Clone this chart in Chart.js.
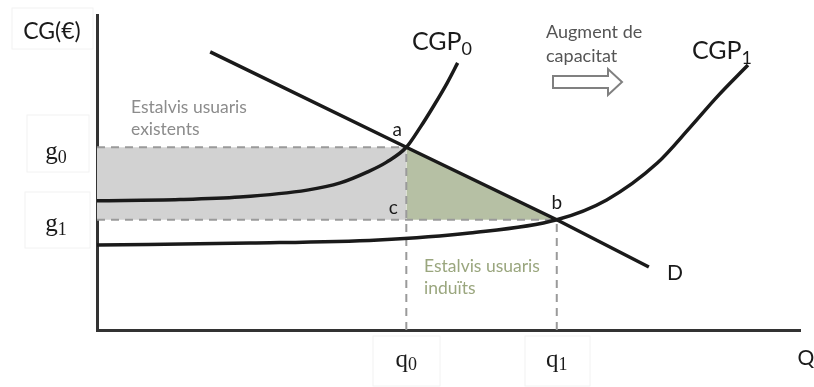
<!DOCTYPE html>
<html lang="ca">
<head>
<meta charset="UTF-8">
<title>Estalvis usuaris - augment de capacitat</title>
<script src="https://cdn.jsdelivr.net/npm/chart.js"></script>
<style>
  body { margin: 0; background: #fff; }
  #wrap { width: 814px; height: 387px; }
</style>
</head>
<body>
<div id="wrap"><canvas id="chart" width="814" height="387"></canvas></div>
<script>
// corbes llegides del gràfic (unitats arbitràries 0..100)
const cgp0X = [0, 11.8, 20.3, 29.9, 34.6, 38.5, 41.2, 44, 46, 47.8, 49.8, 51.3];
const cgp0Y = [41, 41.4, 42.2, 44.4, 46.7, 50.2, 53.3, 58, 64.4, 70.8, 78.4, 84.8];
const cgp1X = [0, 21.8, 40, 53, 65.4, 72.5, 79.7, 84.4, 88.2, 92.6];
const cgp1Y = [27, 27.6, 28.6, 30.8, 35, 41.3, 53, 64.4, 74, 84.1];
const demandX = [16.1, 44, 65.4, 78.5];
const demandY = [88.3, 58, 35, 20];

// equilibris
const q0 = 44, q1 = 65.4;
const g0 = 58, g1 = 35;
const yTickLabels = ['g', 'g'];
const yTickSubs = ['0', '1'];
const xTickLabels = ['q', 'q'];
const xTickSubs = ['0', '1'];

const pts = (xs, ys) => xs.map((x, i) => ({ x: x, y: ys[i] }));

const dash = { borderColor: '#9a9a9a', borderWidth: 2, borderDash: [8, 6], pointRadius: 0, showLine: true, fill: false };

const sans = 'Lato, "Open Sans", sans-serif';
const serif = '"Liberation Serif", "DejaVu Serif", serif';

function sub(ctx, base, s, x, y, size, font, drop) {
  ctx.font = size + 'px ' + font;
  const w1 = ctx.measureText(base).width;
  ctx.font = Math.round(size * 0.7) + 'px ' + font;
  const w2 = ctx.measureText(s).width;
  const left = x - (w1 + w2) / 2;
  ctx.textAlign = 'left';
  ctx.font = size + 'px ' + font;
  ctx.fillText(base, left, y);
  ctx.font = Math.round(size * 0.7) + 'px ' + font;
  ctx.fillText(s, left + w1, y + size * (drop || 0.22));
}

const labels = {
  id: 'labels',
  afterDatasetsDraw(chart) {
    const ctx = chart.ctx;
    const xs = chart.scales.x, ys = chart.scales.y;
    ctx.save();
    ctx.textBaseline = 'middle';

    // caixes suaus al voltant de les etiquetes
    ctx.strokeStyle = '#f2f2f2';
    ctx.lineWidth = 1;
    ctx.strokeRect(12, 8, 81, 41);
    ctx.strokeRect(27, 115, 62, 57);
    ctx.strokeRect(25, 192, 65, 56);
    ctx.strokeRect(373, 336, 67, 50);
    ctx.strokeRect(525, 336, 65, 50);

    ctx.fillStyle = '#1a1a1a';
    ctx.textAlign = 'center';
    ctx.font = '23px ' + sans;
    ctx.fillText('CG(€)', 52, 32);

    // etiquetes dels eixos
    [g0, g1].forEach((v, i) => {
      sub(ctx, yTickLabels[i], yTickSubs[i], 56, ys.getPixelForValue(v) + 5, 25, serif);
    });
    [q0, q1].forEach((v, i) => {
      sub(ctx, xTickLabels[i], xTickSubs[i], xs.getPixelForValue(v), 360, 25, serif);
    });
    ctx.textAlign = 'center';
    ctx.font = '21px ' + sans;
    ctx.fillText('Q', 806, 358);

    // noms de les corbes
    sub(ctx, 'CGP', '0', 442, 42, 25, sans, 0.3);
    sub(ctx, 'CGP', '1', 722, 51, 25, sans, 0.3);
    ctx.textAlign = 'left';
    ctx.font = '21px ' + sans;
    ctx.fillText('D', 667, 273);

    // punts
    ctx.font = '19px ' + sans;
    ctx.textAlign = 'center';
    ctx.fillText('a', xs.getPixelForValue(q0) - 9, ys.getPixelForValue(g0) - 17);
    ctx.fillText('b', xs.getPixelForValue(q1), ys.getPixelForValue(g1) - 17);
    ctx.fillText('c', xs.getPixelForValue(q0) - 13, ys.getPixelForValue(g1) - 12);

    // textos d'estalvis
    ctx.textAlign = 'left';
    ctx.font = '17.5px ' + sans;
    ctx.fillStyle = '#8c8c8c';
    ctx.fillText('Estalvis usuaris', 131, 107);
    ctx.fillText('existents', 131, 129);
    ctx.fillStyle = '#9aa67e';
    ctx.fillText('Estalvis usuaris', 424, 266);
    ctx.fillText('induïts', 424, 288);

    ctx.fillStyle = '#555';
    ctx.font = '18px ' + sans;
    ctx.fillText('Augment de', 546, 32);
    ctx.fillText('capacitat', 546, 56);

    // fletxa buida
    ctx.beginPath();
    ctx.moveTo(553, 76);
    ctx.lineTo(608, 76);
    ctx.lineTo(608, 69);
    ctx.lineTo(622, 82);
    ctx.lineTo(608, 95);
    ctx.lineTo(608, 88);
    ctx.lineTo(553, 88);
    ctx.closePath();
    ctx.fillStyle = '#fff';
    ctx.fill();
    ctx.strokeStyle = '#808080';
    ctx.lineWidth = 2;
    ctx.stroke();

    ctx.restore();
  }
};

new Chart(document.getElementById('chart'), {
  type: 'scatter',
  data: {
    datasets: [
      { label: 'D', data: pts(demandX, demandY), showLine: true, borderColor: '#1a1a1a', borderWidth: 3.5, pointRadius: 0, fill: false, order: 1 },
      { label: 'CGP0', data: pts(cgp0X, cgp0Y), showLine: true, borderColor: '#1a1a1a', borderWidth: 3.5, pointRadius: 0, cubicInterpolationMode: 'monotone', fill: false, order: 1 },
      { label: 'CGP1', data: pts(cgp1X, cgp1Y), showLine: true, borderColor: '#1a1a1a', borderWidth: 3.5, pointRadius: 0, cubicInterpolationMode: 'monotone', fill: false, order: 1 },
      Object.assign({}, dash, { label: 'g0', data: [{ x: 0, y: g0 }, { x: q0, y: g0 }], order: 2 }),
      Object.assign({}, dash, { label: 'g1', data: [{ x: 0, y: g1 }, { x: q1, y: g1 }], order: 2 }),
      Object.assign({}, dash, { label: 'q0', data: [{ x: q0, y: 0 }, { x: q0, y: g0 }], order: 2 }),
      Object.assign({}, dash, { label: 'q1', data: [{ x: q1, y: 0 }, { x: q1, y: g1 }], order: 2 }),
      { label: 'existents', data: [{ x: 0, y: g0 }, { x: q0, y: g0 }], showLine: true, borderWidth: 0, pointRadius: 0, backgroundColor: '#d2d2d2', fill: { value: g1 }, order: 3 },
      { label: 'induits', data: [{ x: q0, y: g0 }, { x: q1, y: g1 }], showLine: true, borderWidth: 0, pointRadius: 0, backgroundColor: '#b6c0a4', fill: { value: g1 }, order: 3 }
    ]
  },
  options: {
    responsive: false,
    animation: false,
    events: [],
    layout: { padding: { left: 97, right: 14, top: 15, bottom: 57 } },
    plugins: { legend: { display: false }, tooltip: { enabled: false } },
    scales: {
      x: {
        type: 'linear', min: 0, max: 100,
        ticks: { display: false },
        grid: { display: false, drawTicks: false },
        border: { display: true, color: '#333', width: 3 }
      },
      y: {
        type: 'linear', min: 0, max: 100,
        ticks: { display: false },
        grid: { display: false, drawTicks: false },
        border: { display: true, color: '#333', width: 3 }
      }
    }
  },
  plugins: [labels]
});
</script>
</body>
</html>
